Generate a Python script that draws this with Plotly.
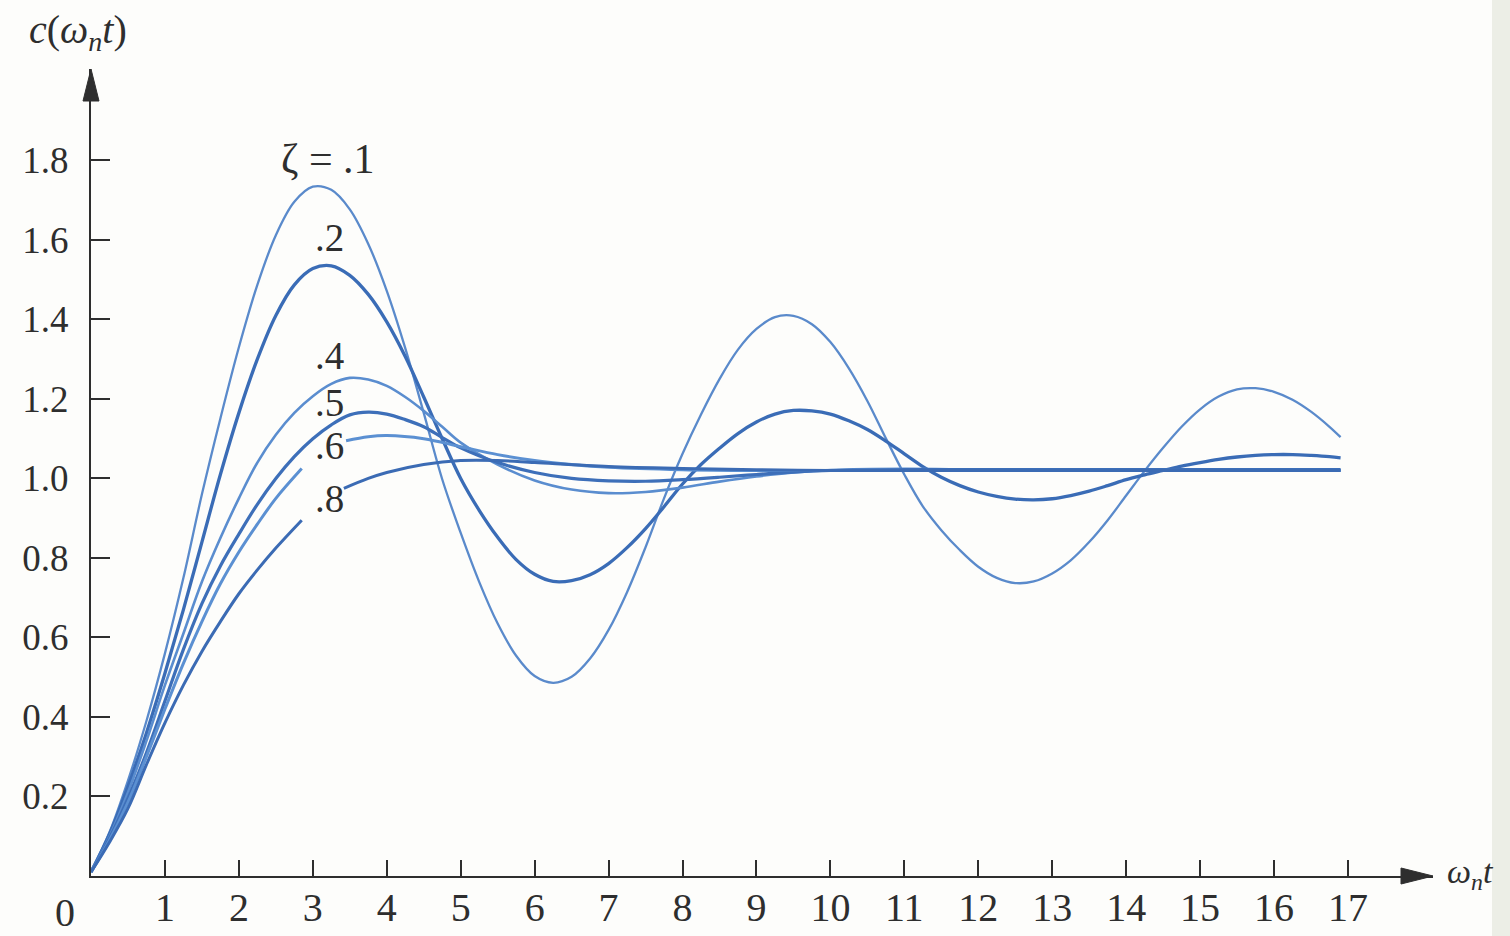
import plotly.graph_objects as go

# ---- data ----
t_z01 = [0, 0.25, 0.5, 0.75, 1, 1.25, 1.5, 1.75, 2, 2.25, 2.5, 2.75, 3, 3.25, 3.5, 3.75,
         4, 4.25, 4.5, 4.75, 5, 5.25, 5.5, 5.75, 6, 6.25, 6.5, 6.75, 7, 7.25, 7.5, 7.75,
         8, 8.25, 8.5, 8.75, 9, 9.25, 9.5, 9.75, 10, 10.25, 10.5, 10.75, 11, 11.25, 11.5,
         11.75, 12, 12.25, 12.5, 12.75, 13, 13.25, 13.5, 13.75, 14, 14.25, 14.5, 14.75,
         15, 15.25, 15.5, 15.75, 16, 16.25, 16.5, 16.75, 16.9]
c_z01 = [0.01, 0.11, 0.24, 0.39, 0.56, 0.75, 0.96, 1.151, 1.33, 1.487, 1.612, 1.696, 1.734,
         1.726, 1.677, 1.59, 1.472, 1.328, 1.165, 0.998, 0.863, 0.74, 0.635, 0.554, 0.503,
         0.486, 0.501, 0.547, 0.619, 0.714, 0.827, 0.95, 1.062, 1.161, 1.25, 1.324, 1.376,
         1.406, 1.409, 1.388, 1.343, 1.277, 1.195, 1.101, 1.01, 0.93, 0.87, 0.82, 0.778,
         0.75, 0.737, 0.741, 0.761, 0.794, 0.84, 0.895, 0.957, 1.019, 1.077, 1.13, 1.174,
         1.206, 1.224, 1.227, 1.218, 1.198, 1.168, 1.13, 1.104]

t_z02 = [0, 0.25, 0.5, 0.75, 1, 1.25, 1.5, 1.75, 2, 2.25, 2.5, 2.75, 3, 3.25, 3.5, 3.75,
         4, 4.25, 4.5, 4.75, 5, 5.25, 5.5, 5.75, 6, 6.25, 6.5, 6.75, 7, 7.25, 7.5, 7.75,
         8, 8.25, 8.5, 8.75, 9, 9.25, 9.5, 9.75, 10, 10.25, 10.5, 10.75, 11, 11.25, 11.5,
         11.75, 12, 12.25, 12.5, 12.75, 13, 13.25, 13.5, 13.75, 14, 14.25, 14.5, 14.75,
         15, 15.25, 15.5, 15.75, 16, 16.25, 16.5, 16.75, 16.9]
c_z02 = [0.01, 0.105, 0.225, 0.36, 0.51, 0.67, 0.84, 1.01, 1.165, 1.30, 1.41, 1.487, 1.528,
         1.535, 1.511, 1.463, 1.394, 1.307, 1.205, 1.10, 1.0, 0.92, 0.852, 0.796, 0.759,
         0.741, 0.743, 0.758, 0.786, 0.826, 0.874, 0.929, 0.986, 1.035, 1.076, 1.113, 1.142,
         1.162, 1.171, 1.17, 1.162, 1.145, 1.123, 1.094, 1.062, 1.03, 1.003, 0.982, 0.966,
         0.955, 0.948, 0.946, 0.949, 0.957, 0.968, 0.982, 0.997, 1.009, 1.02, 1.031, 1.04,
         1.048, 1.054, 1.058, 1.06, 1.06, 1.058, 1.055, 1.052]

t_z04 = [0, 0.25, 0.5, 0.75, 1, 1.25, 1.5, 1.75, 2, 2.25, 2.5, 2.75, 3, 3.25, 3.5, 3.75,
         4, 4.25, 4.5, 4.75, 5, 5.5, 6, 6.5, 7, 7.5, 8, 8.5, 9, 9.5, 10, 11, 12, 13, 14,
         15, 16, 16.9]
c_z04 = [0.01, 0.1, 0.21, 0.34, 0.48, 0.61, 0.74, 0.85, 0.95, 1.04, 1.11, 1.165, 1.207,
         1.238, 1.253, 1.249, 1.233, 1.205, 1.17, 1.13, 1.09, 1.035, 0.995, 0.972, 0.963,
         0.966, 0.977, 0.992, 1.005, 1.015, 1.021, 1.024, 1.022, 1.021, 1.02, 1.02, 1.02,
         1.02]

t_z05 = [0, 0.25, 0.5, 0.75, 1, 1.25, 1.5, 1.75, 2, 2.25, 2.5, 2.75, 3, 3.25, 3.5, 3.75,
         4, 4.25, 4.5, 4.75, 5, 5.5, 6, 6.5, 7, 7.5, 8, 8.5, 9, 9.5, 10, 11, 12, 13, 14,
         15, 16, 16.9]
c_z05 = [0.01, 0.095, 0.195, 0.31, 0.44, 0.57, 0.685, 0.78, 0.86, 0.935, 1.0, 1.055, 1.1,
         1.135, 1.16, 1.167, 1.162, 1.148, 1.13, 1.103, 1.077, 1.04, 1.015, 1.0, 0.994,
         0.993, 0.997, 1.003, 1.01, 1.016, 1.02, 1.022, 1.022, 1.022, 1.022, 1.022, 1.022,
         1.022]

t_z06 = [0, 0.25, 0.5, 0.75, 1, 1.25, 1.5, 1.75, 2, 2.25, 2.5, 2.85, None, 3.45, 3.75, 4,
         4.5, 5, 5.5, 6, 6.5, 7, 8, 9, 10, 11, 12, 13, 14, 15, 16, 16.9]
c_z06 = [0.01, 0.09, 0.185, 0.3, 0.42, 0.535, 0.64, 0.735, 0.815, 0.885, 0.95, 1.025, None,
         1.095, 1.105, 1.108, 1.1, 1.08, 1.06, 1.045, 1.035, 1.028, 1.022, 1.02, 1.02, 1.02,
         1.02, 1.02, 1.02, 1.02, 1.02, 1.02]

t_z08 = [0, 0.25, 0.5, 0.75, 1, 1.25, 1.5, 1.75, 2, 2.25, 2.5, 2.85, None, 3.42, 3.75, 4,
         4.5, 5, 5.5, 6, 7, 8, 9, 10, 11, 12, 13, 14, 15, 16, 16.9]
c_z08 = [0.01, 0.085, 0.17, 0.28, 0.385, 0.48, 0.565, 0.64, 0.71, 0.77, 0.825, 0.895, None,
         0.975, 1.0, 1.015, 1.035, 1.045, 1.045, 1.04, 1.03, 1.025, 1.022, 1.02, 1.02, 1.02,
         1.02, 1.02, 1.02, 1.02, 1.02]

x_ticks = list(range(1, 18))
y_ticks = [0.2, 0.4, 0.6, 0.8, 1.0, 1.2, 1.4, 1.6, 1.8]
y_tick_text = ["0.2", "0.4", "0.6", "0.8", "1.0", "1.2", "1.4", "1.6", "1.8"]

labels = ["\u03b6 = .1", ".2", ".4", ".5", ".6", ".8"]
label_x = [3.2, 3.23, 3.23, 3.23, 3.23, 3.23]
label_y = [1.803, 1.607, 1.31, 1.192, 1.082, 0.95]

# ---- figure ----
SERIF = "Liberation Serif, Times New Roman, serif"
INK = "#2e2e2e"

series = [
    (t_z01, c_z01, "#5a8acb", 2.3),
    (t_z02, c_z02, "#3a6cb6", 3.3),
    (t_z04, c_z04, "#5a8dcf", 2.6),
    (t_z05, c_z05, "#3d6fb9", 3.2),
    (t_z06, c_z06, "#5b90d2", 3.0),
    (t_z08, c_z08, "#3b6bb4", 3.0),
]

fig = go.Figure()
for xs, ys, col, w in series:
    fig.add_trace(go.Scatter(
        x=xs, y=ys, mode="lines",
        line=dict(color=col, width=w, shape="spline", smoothing=1.0),
        connectgaps=False, hoverinfo="skip", showlegend=False))

X_MAX = 18.15
Y_MAX = 2.03
L, R, T, B = 91, 77, 69, 60
PW = 1510 - L - R
PH = 936 - T - B

fig.update_layout(
    width=1510, height=936,
    margin=dict(l=L, r=R, t=T, b=B, autoexpand=False),
    paper_bgcolor="#fdfdfb", plot_bgcolor="#fdfdfb",
    font=dict(family=SERIF, color=INK),
    xaxis=dict(range=[0, X_MAX], showgrid=False, zeroline=False, automargin=False,
               showline=True, linecolor=INK, linewidth=2,
               tickmode="array", tickvals=x_ticks, ticktext=[str(v) for v in x_ticks],
               ticks="inside", ticklen=16, tickwidth=2, tickcolor=INK,
               ticklabelstandoff=-5,
               tickfont=dict(family=SERIF, size=40, color=INK)),
    yaxis=dict(range=[0, Y_MAX], showgrid=False, zeroline=False, automargin=False,
               showline=True, linecolor=INK, linewidth=2,
               tickmode="array", tickvals=y_ticks, ticktext=y_tick_text,
               ticks="inside", ticklen=19, tickwidth=2, tickcolor=INK,
               ticklabelstandoff=13,
               tickfont=dict(family=SERIF, size=37, color=INK)),
)

# arrowheads on the axes (decorations, paper coordinates so they are not clipped)
hl, hw = 32, 8
fig.add_shape(type="path", xref="paper", yref="paper",
              path=f"M 1,0 L {1 - hl / PW},{hw / PH} L {1 - hl / PW},{-hw / PH} Z",
              fillcolor=INK, line=dict(color=INK, width=1))
fig.add_shape(type="path", xref="paper", yref="paper",
              path=f"M 0,1 L {-hw / PW},{1 - hl / PH} L {hw / PW},{1 - hl / PH} Z",
              fillcolor=INK, line=dict(color=INK, width=1))

# scan edge tint
fig.add_shape(type="rect", xref="paper", yref="paper",
              x0=(1492 - L) / PW, x1=(1512 - L) / PW, y0=-0.1, y1=1.1,
              fillcolor="#eceee6", line=dict(width=0), layer="below")

# "0" at origin
fig.add_annotation(x=(65 - L) / PW, y=0, xref="paper", yref="paper", text="0",
                   showarrow=False, xanchor="center", yanchor="top", yshift=-12,
                   font=dict(family=SERIF, size=40, color=INK))

# axis titles
fig.add_annotation(x=(78 - L) / PW, y=1, xref="paper", yref="paper", yshift=10,
                   text="<i>c</i>(<i>\u03c9<sub>n</sub>t</i>)", showarrow=False,
                   xanchor="center", yanchor="bottom",
                   font=dict(family=SERIF, size=40, color=INK))
fig.add_annotation(x=1, y=0, xref="paper", yref="paper", xshift=12, yshift=2,
                   text="<i>\u03c9<sub>n</sub>t</i>", showarrow=False,
                   xanchor="left", yanchor="middle", font=dict(family=SERIF, size=34, color=INK))

# curve labels
for i, (txt, lx, ly) in enumerate(zip(labels, label_x, label_y)):
    fig.add_annotation(x=lx, y=ly, xref="x", yref="y", text=txt, showarrow=False,
                       xanchor="center",
                       font=dict(family=SERIF, size=42 if i == 0 else 39, color=INK))

fig.write_html("out.html")
